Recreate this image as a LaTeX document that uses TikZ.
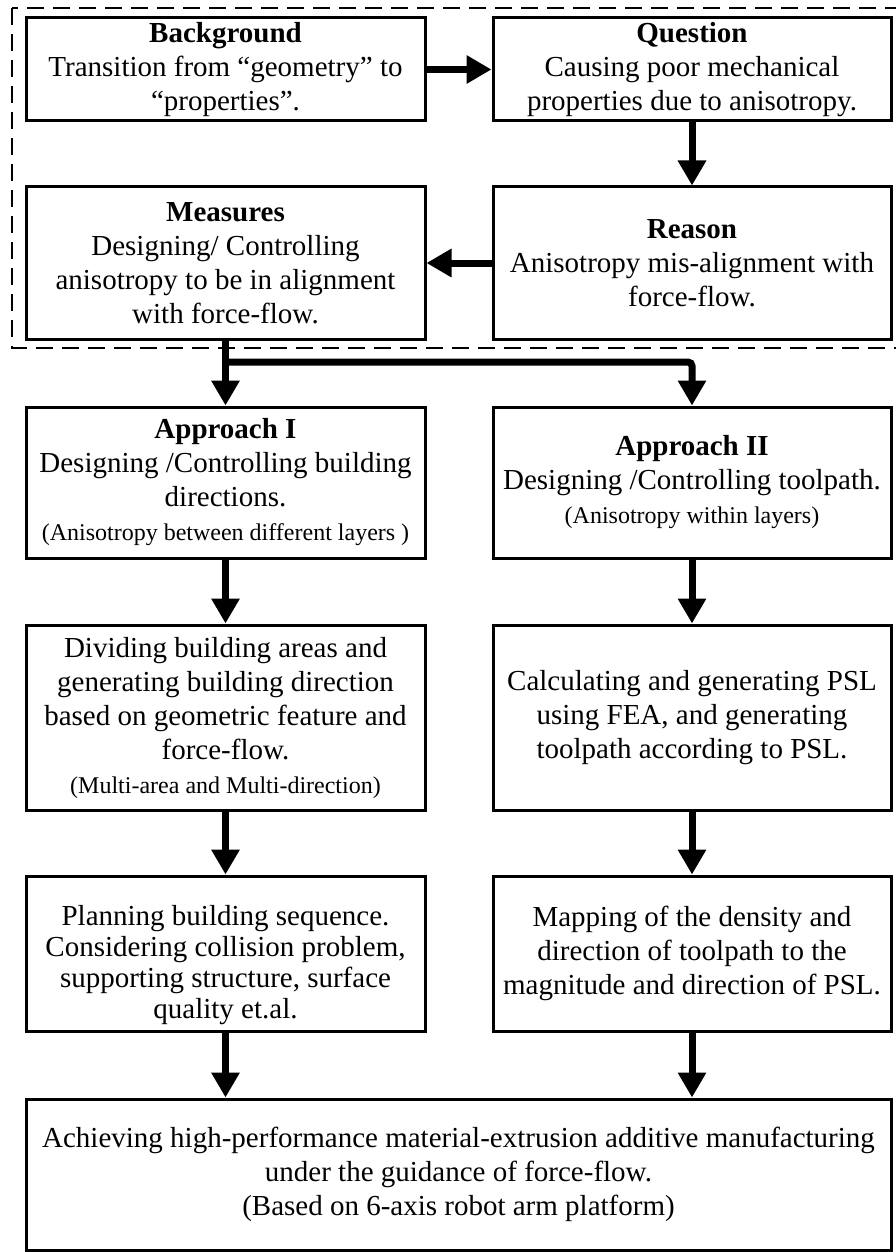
\documentclass[tikz,border=0pt]{standalone}
\usepackage{fontspec}
\setmainfont{Liberation Serif}
\usetikzlibrary{arrows.meta}
\newcommand{\smalltxt}{\fontsize{24pt}{30pt}\selectfont}
\begin{document}
\begin{tikzpicture}[x=1pt,y=-1pt,
  box/.style={draw, line width=3pt, inner sep=0pt, align=center,
    font=\fontsize{29pt}{34pt}\selectfont},
  lbox/.style={box, minimum width=399pt},
  rbox/.style={box, minimum width=398pt},
  plain/.style={inner sep=0pt, align=center, font=\fontsize{29pt}{31pt}\selectfont},
  arr/.style={line width=7pt, -{Triangle[length=25pt,width=27pt]}},
  dashedframe/.style={draw, line width=2pt, dash pattern=on 17pt off 9pt}
]
\useasboundingbox (0,0) rectangle (896,1252);
\fill[white] (0,0) rectangle (896,1252);

% dashed frame
\draw[dashedframe] (12,8) rectangle (910,348);

% boxes
\node[lbox, minimum height=103pt] (bg) at (225.5,69.5)
  {\textbf{Background}\\Transition from “geometry” to\\“properties”.};
\node[rbox, minimum height=103pt] (q) at (692,69.5)
  {\textbf{Question}\\Causing poor mechanical\\properties due to anisotropy.};
\node[lbox, minimum height=152pt] (meas) at (225.5,263)
  {\textbf{Measures}\\Designing/ Controlling\\anisotropy to be in alignment\\with force-flow.};
\node[rbox, minimum height=152pt] (reas) at (692,263)
  {\textbf{Reason}\\Anisotropy mis-alignment with\\force-flow.};
\node[lbox, minimum height=151pt] (a1) at (225.5,482.5)
  {\textbf{Approach I}\\Designing /Controlling building\\directions.\\{\smalltxt (Anisotropy between different layers )}};
\node[rbox, minimum height=151pt] (a2) at (692,482.5)
  {\textbf{Approach II}\\Designing /Controlling toolpath.\\{\smalltxt (Anisotropy within layers)}};
\node[lbox, minimum height=185pt] (div) at (225.5,717.5)
  {Dividing building areas and\\generating building direction\\based on geometric feature and\\force-flow.\\{\smalltxt (Multi-area and Multi-direction)}};
\node[rbox, minimum height=185pt] (calc) at (692,717.5)
  {Calculating and generating PSL\\using FEA, and generating\\toolpath according to PSL.};
\node[lbox, minimum height=155pt] (plan) at (225.5,953.5) {};
\node[plain] (plantext) at (225.5,965)
  {Planning building sequence.\\Considering collision problem,\\supporting structure, surface\\quality et.al.};
\node[rbox, minimum height=155pt] (map) at (692,953.5)
  {Mapping of the density and\\direction of toolpath to the\\magnitude and direction of PSL.};
\node[box, minimum width=865pt, minimum height=151pt] (fin) at (458.5,1174.5)
  {Achieving high-performance material-extrusion additive manufacturing\\under the guidance of force-flow.\\(Based on 6-axis robot arm platform)};

% connectors
\coordinate (split) at (225.5,362);
\draw[arr] (bg) -- (q);
\draw[arr] (q) -- (reas);
\draw[arr] (reas) -- (meas);
\draw[arr] (meas) -- (a1);
\draw[arr, rounded corners=4pt] (split) -| (a2.north);
\draw[arr] (a1) -- (div);
\draw[arr] (a2) -- (calc);
\draw[arr] (div) -- (plan);
\draw[arr] (calc) -- (map);
\draw[arr] (plan.south) -- (plan.south |- fin.north);
\draw[arr] (map.south) -- (map.south |- fin.north);
\end{tikzpicture}
\end{document}
